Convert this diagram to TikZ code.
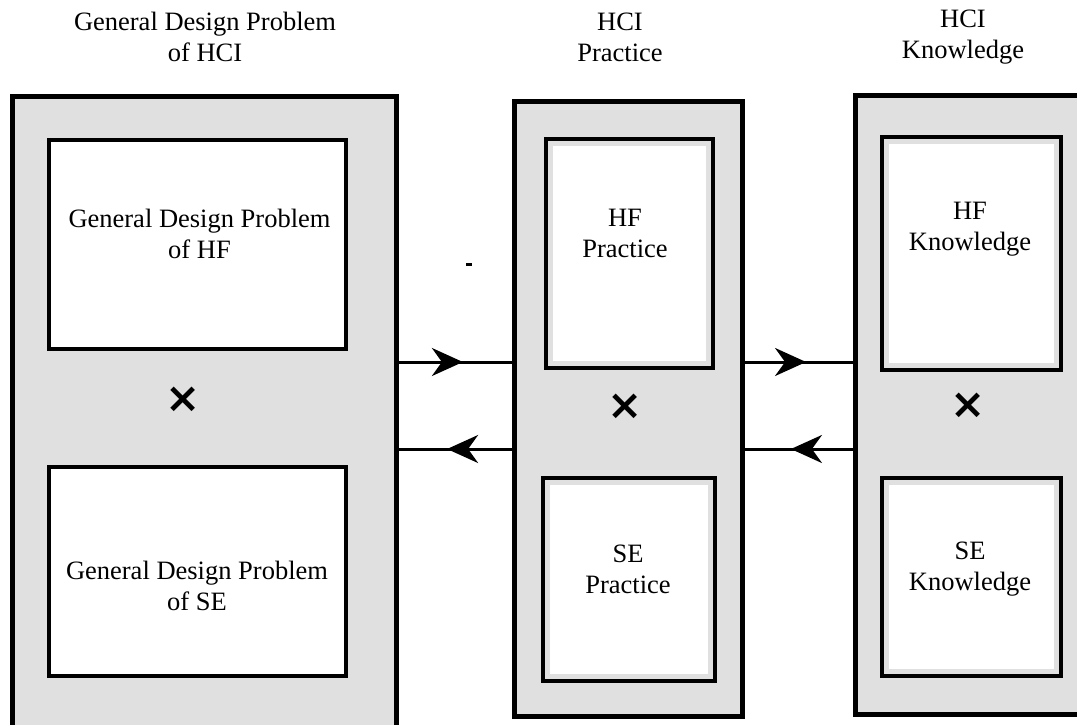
\documentclass[tikz,border=0pt]{standalone}
\usepackage{fontspec}
\setmainfont{Liberation Serif}
\newfontfamily\symfont{DejaVu Sans}
\usetikzlibrary{arrows.meta, positioning, decorations.markings}

\begin{document}
\begin{tikzpicture}[x=1pt, y=-1pt,
  column/.style={draw, line width=5pt, fill=black!12, inner sep=0pt},
  part/.style={draw, line width=4.5pt, fill=white, inner sep=0pt},
  inset/.style={part, fill=black!12,
                path picture={\fill[white]
                  ([shift={(7pt,7pt)}]path picture bounding box.south west) rectangle
                  ([shift={(-7pt,-7pt)}]path picture bounding box.north east);}},
  label/.style={align=center, font=\fontsize{26.5}{31}\selectfont},
  cross/.style={font=\fontsize{42}{42}\selectfont\symfont\bfseries},
  flow/.style={line width=3pt, postaction={decorate},
               decoration={markings, mark=at position 0.57 with
                 {\arrow{Stealth[length=31pt, width=28pt, inset=10pt]}}}}]

  \clip (0,0) rectangle (1077,724);

  \node[column, minimum width=384pt, minimum height=660pt] (l) at (204,426) {};
  \node[column, minimum width=228pt, minimum height=615pt] (m) at (628,408.5) {};
  \node[column, minimum width=235pt, minimum height=619pt] (r) at (972.5,404.5) {};

  \node[part,  minimum width=297pt, minimum height=209pt] (lt) at (197.5,244.5) {};
  \node[part,  minimum width=297pt, minimum height=209pt] (lb) at (197.5,571.5) {};
  \node[inset, minimum width=167pt, minimum height=229pt] (mt) at (629.5,253.5) {};
  \node[inset, minimum width=172pt, minimum height=203pt] (mb) at (629,579.5) {};
  \node[inset, minimum width=179pt, minimum height=233pt] (rt) at (971.5,253.5) {};
  \node[inset, minimum width=179pt, minimum height=198pt] (rb) at (971.5,577) {};

  \node[label] (lh) at (205,37) {General Design Problem\\of HCI};
  \node[label] (mh) at (620,37) {HCI\\Practice};
  \node[label] (rh) at (963,37) {HCI\\Knowledge};

  \node[label] (ltt) at (199.5,234) {General Design Problem\\of HF};
  \node[label] (lbt) at (197,586)   {General Design Problem\\of SE};
  \node[label] (mtt) at (625,233)   {HF\\Practice};
  \node[label] (mbt) at (628,569.5) {SE\\Practice};
  \node[label] (rtt) at (970,229)   {HF\\Knowledge};
  \node[label] (rbt) at (970,569.5) {SE\\Knowledge};

  \node[cross] (lx) at (183,400) {×};
  \node[cross] (mx) at (625,407) {×};
  \node[cross] (rx) at (968,406) {×};

  \coordinate (upper) at (0,362);
  \coordinate (lower) at (0,449);
  \draw[flow] (l.east |- upper) -- (m.west |- upper);
  \draw[flow] (m.west |- lower) -- (l.east |- lower);
  \draw[flow] (m.east |- upper) -- (r.west |- upper);
  \draw[flow] (r.west |- lower) -- (m.east |- lower);

  \fill (466,263) rectangle (472,266);
\end{tikzpicture}
\end{document}
